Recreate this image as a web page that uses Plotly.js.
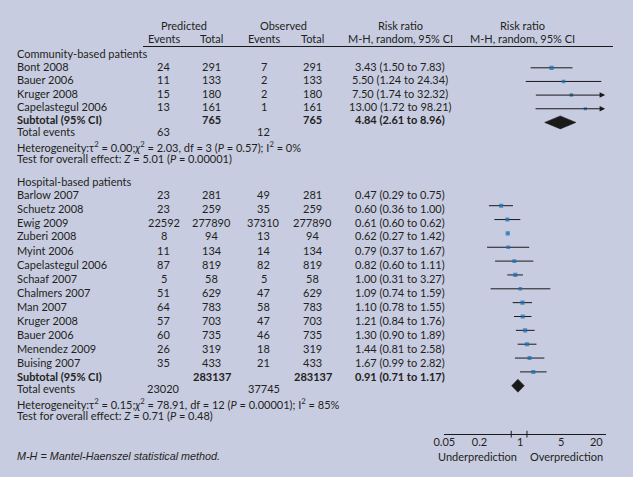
<!DOCTYPE html>
<html><head><meta charset="utf-8">
<script src="https://cdn.plot.ly/plotly-3.0.1.min.js"></script>
<style>html,body{margin:0;padding:0;background:#c8cce0;} #chart{width:633px;height:477px;}</style>
</head><body><div id="chart"></div>
<script>
// ---------------- DATA ----------------
const commStudies   = ["Bont 2008","Bauer 2006","Kruger 2008","Capelastegul 2006"];
const commPredEv    = [24, 11, 15, 13];
const commPredTot   = [291, 133, 180, 161];
const commObsEv     = [7, 2, 2, 1];
const commObsTot    = [291, 133, 180, 161];
const commRR        = [3.43, 5.50, 7.50, 13.00];
const commLo        = [1.50, 1.24, 1.74, 1.72];
const commHi        = [7.83, 24.34, 32.32, 98.21];
const commSub       = [765, 765];          // predicted total, observed total
const commSubRR     = [4.84, 2.61, 8.96];  // estimate, lower, upper
const commEvents    = [63, 12];
const commTau2      = 0.00;
const commHet       = "Heterogeneity:τ<sup>2</sup> = 0.00;<i>χ</i><sup>2</sup> = 2.03, df = 3 (<i>P</i> = 0.57); I<sup>2</sup> = 0%";
const commTest      = "Test for overall effect: <i>Z</i> = 5.01 (<i>P</i> = 0.00001)";

const hospStudies   = ["Barlow 2007","Schuetz 2008","Ewig 2009","Zuberi 2008","Myint 2006","Capelastegul 2006","Schaaf 2007","Chalmers 2007","Man 2007","Kruger 2008","Bauer 2006","Menendez 2009","Buising 2007"];
const hospPredEv    = [23, 23, 22592, 8, 11, 87, 5, 51, 64, 57, 60, 26, 35];
const hospPredTot   = [281, 259, 277890, 94, 134, 819, 58, 629, 783, 703, 735, 319, 433];
const hospObsEv     = [49, 35, 37310, 13, 14, 82, 5, 47, 58, 47, 46, 18, 21];
const hospObsTot    = [281, 259, 277890, 94, 134, 819, 58, 629, 783, 703, 735, 319, 433];
const hospRR        = [0.47, 0.60, 0.61, 0.62, 0.79, 0.82, 1.00, 1.09, 1.10, 1.21, 1.30, 1.44, 1.67];
const hospLo        = [0.29, 0.36, 0.60, 0.27, 0.37, 0.60, 0.31, 0.74, 0.78, 0.84, 0.90, 0.81, 0.99];
const hospHi        = [0.75, 1.00, 0.62, 1.42, 1.67, 1.11, 3.27, 1.59, 1.55, 1.76, 1.89, 2.58, 2.82];
const hospSub       = [283137, 283137];
const hospSubRR     = [0.91, 0.71, 1.17];
const hospEvents    = [23020, 37745];
const hospTau2      = 0.15;
const hospHet       = "Heterogeneity:τ<sup>2</sup> = 0.15;<i>χ</i><sup>2</sup> = 78.91, df = 12 (<i>P</i> = 0.00001); I<sup>2</sup> = 85%";
const hospTest      = "Test for overall effect: <i>Z</i> = 0.71 (<i>P</i> = 0.48)";

const tickVals      = [0.05, 0.2, 1, 5, 20];
const tickText      = ["0.05", "0.2", "1", "5", "20"];

// ---------------- LAYOUT CONSTANTS ----------------
const W = 633, H = 477;
const FONT = "Lato, 'Open Sans', sans-serif";
const TXT = "#231f20";
const BG = "#c8cce0";
const MARK = "#166db4";
const INK = "#1a1a1a";
const axisY = 434.3;
const pxLeft = 444.3, pxRight = 606;
const xLogMin = Math.log10(0.05), xLogMax = 1.467;
const col = {name: 15, pe: 164, pt: 211.5, oe: 263.5, ot: 312.5, rr: 400};

const groups = [
  {title: "Community-based patients", names: commStudies, pe: commPredEv, pt: commPredTot, oe: commObsEv, ot: commObsTot,
   rr: commRR, lo: commLo, hi: commHi, sub: commSub, subRR: commSubRR, ev: commEvents, tau2: commTau2, het: commHet, test: commTest,
   y0: 66.5, step: 13.3, mOff: 1.3, mStep: 13.65},
  {title: "Hospital-based patients", names: hospStudies, pe: hospPredEv, pt: hospPredTot, oe: hospObsEv, ot: hospObsTot,
   rr: hospRR, lo: hospLo, hi: hospHi, sub: hospSub, subRR: hospSubRR, ev: hospEvents, tau2: hospTau2, het: hospHet, test: hospTest,
   y0: 194, step: 14.0, mOff: 11.7, mStep: 13.85}
];

const ann = [];
function txt(xpx, ypx, text, extra) {
  ann.push(Object.assign({xref: "paper", yref: "paper", x: xpx / W, y: 1 - ypx / H, text: text, showarrow: false,
    xanchor: "center", yanchor: "middle", font: {family: FONT, size: 11, color: TXT}}, extra || {}));
}
const fmt = (r, l, h) => `${r.toFixed(2)} (${l.toFixed(2)} to ${h.toFixed(2)})`;

// header
txt(184, 25.5, "Predicted"); txt(283, 25.5, "Observed");
txt(400, 25.5, "Risk ratio"); txt(522, 25.5, "Risk ratio");
txt(col.pe, 39, "Events"); txt(col.pt, 39, "Total");
txt(col.oe, 39, "Events"); txt(col.ot, 39, "Total");
txt(400, 39, "M-H, random, 95% CI"); txt(522, 39, "M-H, random, 95% CI");

const traces = [];
const ciX = [], ciY = [], mX = [], mY = [], mS = [];
groups.forEach(g => {
  txt(col.name, g.y0 - 13, g.title, {xanchor: "left"});
  const w = g.lo.map((l, i) => { const se = (Math.log(g.hi[i]) - Math.log(l)) / 3.92; return 1 / (se * se + g.tau2); });
  const wMax = Math.max(...w);
  g.names.forEach((n, i) => {
    const y = g.y0 + i * g.step;
    txt(col.name, y, n, {xanchor: "left"});
    txt(col.pe, y, String(g.pe[i])); txt(col.pt, y, String(g.pt[i]));
    txt(col.oe, y, String(g.oe[i])); txt(col.ot, y, String(g.ot[i]));
    txt(col.rr, y, fmt(g.rr[i], g.lo[i], g.hi[i]));
    const my = g.y0 + g.mOff + i * g.mStep;
    if (Math.log10(g.hi[i]) > xLogMax) {
      ann.push({xref: "x", yref: "y", axref: "x", ayref: "y", x: xLogMax - 0.015, y: my, ax: Math.log10(g.lo[i]), ay: my,
        text: "", showarrow: true, arrowhead: 2, arrowsize: 1.1, arrowwidth: 1, arrowcolor: INK, standoff: 0, startstandoff: 0});
    } else {
      ciX.push(g.lo[i], g.hi[i], null); ciY.push(my, my, null);
    }
    mX.push(g.rr[i]); mY.push(my); mS.push(2.5 + 1.8 * Math.sqrt(w[i] / wMax));
  });
  const ys = g.y0 + g.names.length * g.step;
  txt(col.name, ys, "<b>Subtotal (95% CI)</b>", {xanchor: "left"});
  txt(col.pt, ys, `<b>${g.sub[0]}</b>`); txt(col.ot, ys, `<b>${g.sub[1]}</b>`);
  txt(col.rr, ys, `<b>${fmt(g.subRR[0], g.subRR[1], g.subRR[2])}</b>`);
  txt(col.name, ys + 12, "Total events", {xanchor: "left"});
  txt(col.pe, ys + 12, String(g.ev[0])); txt(col.oe, ys + 12, String(g.ev[1]));
  txt(col.name, ys + 27, g.het, {xanchor: "left"});
  txt(col.name, ys + 39, g.test, {xanchor: "left"});
  const dy = g.y0 + g.mOff + g.names.length * g.mStep;
  const [e, l, h] = g.subRR;
  traces.push({type: "scatter", mode: "lines", x: [l, e, h, e, l], y: [dy, dy - 6.5, dy, dy + 6.5, dy], fill: "toself",
    fillcolor: INK, line: {color: INK, width: 0.5}, hoverinfo: "skip", showlegend: false});
});

traces.unshift({type: "scatter", mode: "lines", x: ciX, y: ciY, line: {color: INK, width: 1}, hoverinfo: "skip", showlegend: false});
traces.push({type: "scatter", mode: "markers", x: mX, y: mY, marker: {symbol: "square", size: mS, color: MARK, line: {width: 0}},
  hoverinfo: "skip", showlegend: false});

// footer texts
txt(15, 456, "<i>M-H = Mantel-Haenszel statistical method.</i>", {xanchor: "left", font: {family: "'Liberation Sans', Arial, sans-serif", size: 10.8, color: TXT}});
txt(478, 456.7, "Underprediction"); txt(566.5, 456.7, "Overprediction");

const shapes = [
  {type: "line", xref: "paper", yref: "paper", x0: 143 / W, x1: 613 / W, y0: 1 - 46.5 / H, y1: 1 - 46.5 / H, line: {color: INK, width: 1}},
  {type: "line", xref: "x", yref: "y", x0: 0, x1: 0, y0: 46.5, y1: axisY, line: {color: INK, width: 1.3}, layer: "below"}
];
tickVals.forEach(v => shapes.push({type: "line", xref: "x", yref: "paper", x0: Math.log10(v), x1: Math.log10(v),
  y0: 1 - 430.8 / H, y1: 1 - 437.5 / H, line: {color: INK, width: 1}}));

const layout = {
  width: W, height: H, margin: {l: 0, r: 0, t: 0, b: 0},
  paper_bgcolor: BG, plot_bgcolor: "rgba(0,0,0,0)", showlegend: false,
  xaxis: {type: "log", domain: [pxLeft / W, pxRight / W], range: [xLogMin, xLogMax], showgrid: false, zeroline: false,
    showline: true, linecolor: INK, linewidth: 1, ticks: "", ticklabelstandoff: -3,
    tickvals: tickVals, ticktext: tickText, tickfont: {family: FONT, size: 11, color: TXT}, fixedrange: true},
  yaxis: {domain: [(H - axisY) / H, 1], range: [axisY, 0], visible: false, fixedrange: true},
  annotations: ann, shapes: shapes, font: {family: FONT, color: TXT}
};
Plotly.newPlot("chart", traces, layout, {displayModeBar: false, staticPlot: true});
</script>
</body></html>
